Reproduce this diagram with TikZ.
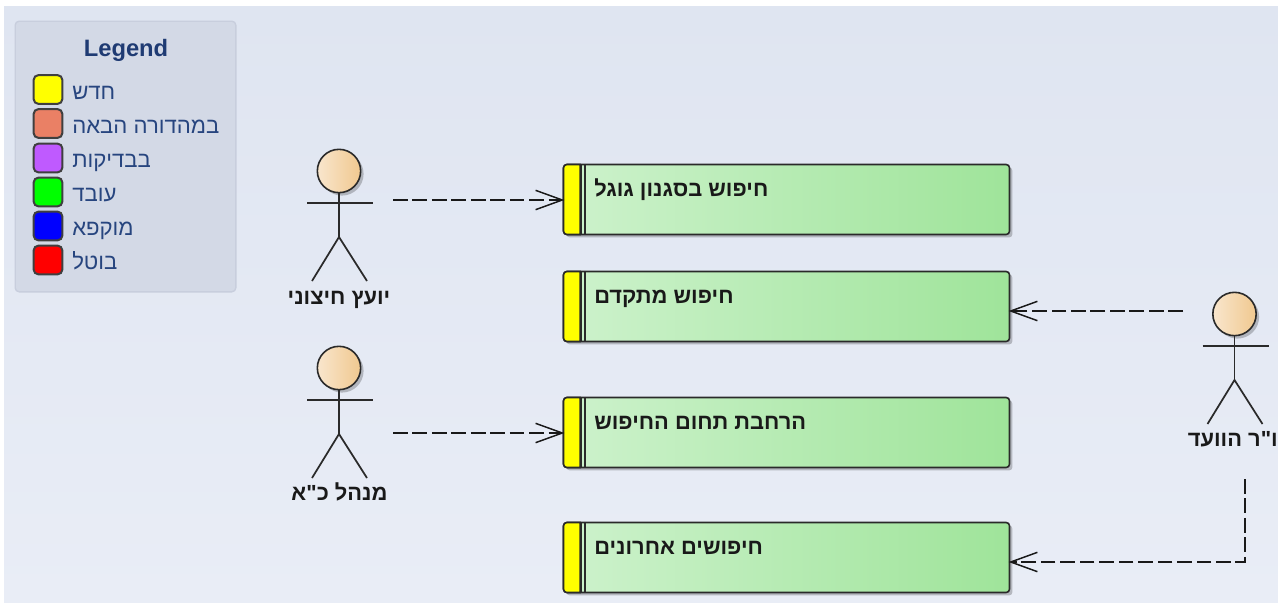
\documentclass[tikz,border=0pt]{standalone}
\usepackage{fontspec}
\setmainfont{Liberation Sans}
\newfontfamily\hebfont[Script=Hebrew]{Liberation Sans}
\TeXXeTstate=1
\usetikzlibrary{arrows.meta,shadows,calc}
\definecolor{bgtop}{HTML}{DFE5F1}
\definecolor{bgbot}{HTML}{E9EDF6}
\definecolor{panelfill}{HTML}{D3D9E6}
\definecolor{panelline}{HTML}{C8CEDD}
\definecolor{legendtext}{HTML}{27457F}
\definecolor{legendtitle}{HTML}{1F3B73}
\definecolor{edgedark}{HTML}{2A2A2A}
\definecolor{ucleft}{HTML}{CDF2CC}
\definecolor{ucright}{HTML}{9FE49A}
\definecolor{headleft}{HTML}{F9E6CD}
\definecolor{headright}{HTML}{F0C88F}
\definecolor{swyellow}{HTML}{FFFF00}
\definecolor{sworange}{HTML}{EA8065}
\definecolor{swpurple}{HTML}{BF5AFF}
\definecolor{swgreen}{HTML}{00FF00}
\definecolor{swblue}{HTML}{0000FF}
\definecolor{swred}{HTML}{FF0000}
\tikzset{
  softshadow/.style={drop shadow={shadow xshift=2.2pt,shadow yshift=-2.2pt,opacity=.22,fill=black}},
  ucbox/.style={draw=edgedark,line width=1.2pt,rounded corners=2.5pt,left color=ucleft,right color=ucright,
    minimum width=334.5pt,minimum height=52.5pt,inner sep=0pt,outer sep=0pt,softshadow},
  uctext/.style={font=\hebfont\bfseries\fontsize{16.4}{19}\selectfont,text=black!90,anchor=base west,inner sep=0pt},
  swatch/.style={draw=edgedark!90,line width=1.5pt,rounded corners=3.5pt,minimum size=21.5pt,inner sep=0pt},
  legtext/.style={font=\hebfont\fontsize{16.6}{19}\selectfont,text=legendtext,anchor=base west,inner sep=0pt},
  head/.style={circle,draw=edgedark,line width=1.2pt,left color=headleft,right color=headright,minimum size=32.5pt,inner sep=0pt,softshadow},
  limb/.style={draw=edgedark,line width=1.3pt},
  actorname/.style={font=\hebfont\bfseries\fontsize{16.4}{19}\selectfont,text=black!90,inner sep=0pt,anchor=base},
  dep/.style={draw=black!90,line width=1.05pt,dash pattern=on 11pt off 3.6pt,shorten >=-0.7pt,-{Straight Barb[length=20pt,width=14.5pt,line width=1.1pt]}}
}
\newcommand{\actorfig}[1]{%
  \node[head] (h#1) at (0,0) {};
  \coordinate (n#1) at (0,66);
  \draw[limb] (h#1.south) -- (n#1);
  \coordinate (la#1) at (-32,32); \coordinate (ra#1) at (34,32);
  \draw[limb] (la#1) -- (ra#1);
  \coordinate (ll#1) at (-27,110); \coordinate (rl#1) at (28,110);
  \draw[limb] (ll#1) -- (n#1) -- (rl#1);
}
\newcommand{\usecase}[4]{%
  \node[ucbox] (#1) at (786.5,#2) {};
  \draw[draw=edgedark,line width=1.2pt,fill=swyellow] ([xshift=12.5pt]#1.north west) [rounded corners=2.5pt] -- (#1.north west) -- (#1.south west) [sharp corners] -- ([xshift=12.5pt]#1.south west) -- cycle;
  \draw[edgedark,line width=1.5pt] ([xshift=13.1pt]#1.north west) -- ([xshift=13.1pt]#1.south west);
  \draw[edgedark,line width=1.2pt] ([xshift=16.1pt]#1.north west) -- ([xshift=16.1pt]#1.south west);
  \node[uctext] (#1t) at (594,#3) {#4};
}
\newcommand{\legrow}[5]{%
  \node[swatch,fill=#3] (s#1) at (48,#2) {};
  \node[legtext] (l#1) at (72,#4) {#5};
}
\begin{document}
\begin{tikzpicture}[x=0.75pt,y=-0.75pt]
\useasboundingbox (0,0) rectangle (1278,603);
\path[fill=white] (0,0) rectangle (1278,603);
\shade[top color=bgtop,bottom color=bgbot] (4,6) rectangle (1278,603);
% legend
\node[draw=panelline,fill=panelfill,line width=1pt,rounded corners=3pt,minimum width=165.5pt,minimum height=203pt,inner sep=0pt] (panel) at (125.5,156.5) {};
\node[font=\bfseries\fontsize{17.8}{21}\selectfont,text=legendtitle,inner sep=0pt] (ltitle) at (126,50) {Legend};
\legrow{1}{89.5}{swyellow}{99}{\beginR חדש\endR}
\legrow{2}{123.5}{sworange}{133}{\beginR במהדורה הבאה\endR}
\legrow{3}{158}{swpurple}{167}{\beginR בבדיקות\endR}
\legrow{4}{192}{swgreen}{201}{\beginR עובד\endR}
\legrow{5}{226}{swblue}{235.5}{\beginR מוקפא\endR}
\legrow{6}{260}{swred}{269.5}{\beginR בוטל\endR}
% use cases
\usecase{b1}{199.5}{196}{\beginR חיפוש בסגנון גוגל\endR}
\usecase{b2}{306.5}{303}{\beginR חיפוש מתקדם\endR}
\usecase{b3}{432.5}{429}{\beginR הרחבת תחום החיפוש\endR}
\usecase{b4}{557.5}{554}{\beginR חיפושים אחרונים\endR}
% actors
\begin{scope}[shift={(339,171)}]\actorfig{1}\end{scope}
\begin{scope}[shift={(339,368)}]\actorfig{2}\end{scope}
\begin{scope}[shift={(1234.5,314)}]\actorfig{3}\end{scope}
\node[actorname] (an1) at (339,304) {\beginR יועץ חיצוני\endR};
\node[actorname] (an2) at (339.5,500) {\beginR מנהל כ"א\endR};
\node[actorname,anchor=base east] (an3) at (1278,446) {\beginR ו"ר הוועד\endR};
% connectors
\coordinate (c1) at (393,200);
\coordinate (c2) at (393,433);
\coordinate (c3) at (1183,311);
\coordinate (c4) at (1245,479);
\coordinate (c5) at (1245,562);
\draw[dep] (c1) -- (b1.west |- c1);
\draw[dep] (c2) -- (b3.west |- c2);
\draw[dep] (c3) -- (b2.east |- c3);
\draw[dep] (c4) -- (c5) -- (b4.east |- c5);
\end{tikzpicture}
\end{document}
